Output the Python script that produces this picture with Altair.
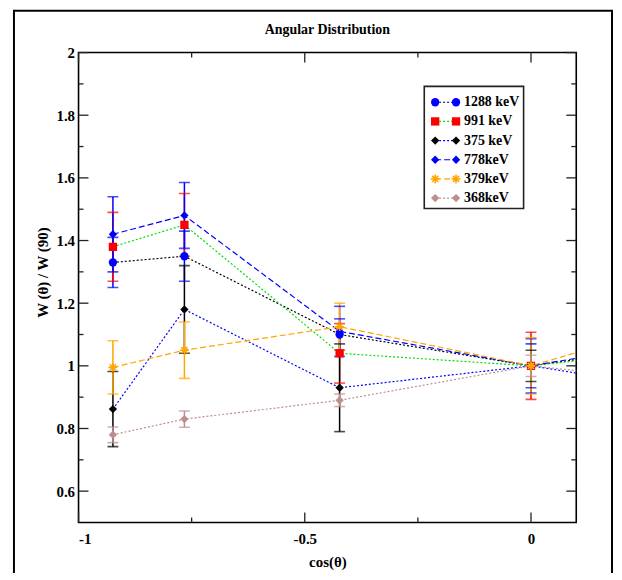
import altair as alt
import pandas as pd

# ---- data ----
cos_theta = [-0.924, -0.766, -0.423, 0.0, 0.2]   # last point lies beyond the visible range (clipped)

series = ["1288 keV", "991 keV", "375 keV", "778keV", "379keV", "368keV"]

w_1288 = [1.33, 1.35, 1.10, 1.00, 1.04]
w_991 = [1.38, 1.45, 1.04, 1.00, 1.032]
w_375 = [0.862, 1.18, 0.93, 1.00, 0.954]
w_778 = [1.42, 1.48, 1.11, 1.00, 1.048]
w_379 = [0.995, 1.05, 1.125, 1.00, 1.084]
w_368 = [0.78, 0.83, 0.89, 1.00, 0.97]

e_1288 = [0.08, 0.08, 0.05, 0.07]
e_991 = [0.11, 0.10, 0.095, 0.107]
e_375 = [0.12, 0.14, 0.14, 0.05]
e_778 = [0.12, 0.105, 0.08, 0.087]
e_379 = [0.085, 0.09, 0.075, 0.09]
e_368 = [0.025, 0.026, 0.02, 0.034]

values = [w_1288, w_991, w_375, w_778, w_379, w_368]
errors = [e_1288, e_991, e_375, e_778, e_379, e_368]

x_major = [-1.0, -0.5, 0.0]
x_minor = [-0.75, -0.25]
y_major = [0.6, 0.8, 1.0, 1.2, 1.4, 1.6, 1.8, 2.0]
y_minor = [0.7, 0.9, 1.1, 1.3, 1.5, 1.7, 1.9]

# ---- styles ----
marker_colors = ["#0000ff", "#ff0000", "#000000", "#0000ff", "#ffa500", "#bc8f8f"]
line_colors = ["#000000", "#00e000", "#0000ff", "#0000ff", "#ffa500", "#bc8f8f"]
dashes = [[2, 2], [2, 2], [2, 2], [6, 3], [6, 3], [2, 2]]
shapes = ["circle", "square", "diamond", "diamond", "circle", "diamond"]
ASTERISK = "M-1,0L1,0M0,-1L0,1M-0.7,-0.7L0.7,0.7M-0.7,0.7L0.7,-0.7"

FONT = "Liberation Serif"
W, H = 501, 473

rows = []
for s, ys in zip(series, values):
    for x, y in zip(cos_theta, ys):
        rows.append({"series": s, "x": x, "y": y})
df = pd.DataFrame(rows)

erows = []
for s, ys, es in zip(series, values, errors):
    for x, y, e in zip(cos_theta, ys, es):
        erows.append({"series": s, "x": x, "y": y, "lo": y - e, "hi": y + e})
dfe = pd.DataFrame(erows)

xs = alt.Scale(domain=[-1, 0.1], nice=False, zero=False)
ys_ = alt.Scale(domain=[0.5, 2.0], nice=False, zero=False)
col_marker = alt.Scale(domain=series, range=marker_colors)
col_line = alt.Scale(domain=series, range=line_colors)
dash_scale = alt.Scale(domain=series, range=dashes)
shape_scale = alt.Scale(domain=series, range=shapes)

x_axis = alt.Axis(values=x_major, format="~g", tickSize=0, domain=False, grid=False,
                  labelExpr="replace(datum.label, '\u2212', '-')",
                  labelFont=FONT, labelFontSize=15, labelFontWeight="bold", labelColor="black",
                  labelPadding=9, title="cos(θ)", titleFont=FONT, titleFontSize=15,
                  titleFontWeight="bold", titleBaseline="middle", titleY=39, titleColor="black")
y_axis = alt.Axis(values=y_major, format="~g", tickSize=0, domain=False, grid=False,
                  labelFont=FONT, labelFontSize=15, labelFontWeight="bold", labelColor="black",
                  labelPadding=4, title="W (θ) / W (90)", titleFont=FONT, titleFontSize=15,
                  titleFontWeight="bold", titleAngle=270, titleAlign="center",
                  titleBaseline="middle", titleX=-36, titleY=221, titleColor="black")


def X(field):
    return alt.X(field, scale=xs, axis=x_axis)


def Y(field):
    return alt.Y(field, scale=ys_, axis=y_axis)


lines = alt.Chart(df).mark_line(clip=True, strokeWidth=1.2).encode(
    x=X("x:Q"), y=Y("y:Q"),
    stroke=alt.Stroke("series:N", scale=col_line, legend=None),
    strokeDash=alt.StrokeDash("series:N", scale=dash_scale, legend=None),
    detail="series:N",
    order="x:Q",
)

ebars = alt.Chart(dfe).mark_rule(clip=True, strokeWidth=1.5).encode(
    x=X("x:Q"), y=Y("lo:Q"), y2="hi:Q",
    color=alt.Color("series:N", scale=col_marker, legend=None),
)
cap_lo = alt.Chart(dfe).mark_tick(clip=True, orient="horizontal", size=11, thickness=1.6).encode(
    x=X("x:Q"), y=Y("lo:Q"),
    color=alt.Color("series:N", scale=col_marker, legend=None),
)
cap_hi = alt.Chart(dfe).mark_tick(clip=True, orient="horizontal", size=11, thickness=1.6).encode(
    x=X("x:Q"), y=Y("hi:Q"),
    color=alt.Color("series:N", scale=col_marker, legend=None),
)

filled_pts = alt.Chart(df[df.series != "379keV"]).mark_point(
    clip=True, filled=True, size=70, opacity=1).encode(
    x=X("x:Q"), y=Y("y:Q"),
    color=alt.Color("series:N", scale=col_marker, legend=None),
    shape=alt.Shape("series:N", scale=shape_scale, legend=None),
)
star_pts = alt.Chart(df[df.series == "379keV"]).mark_point(
    clip=True, filled=False, size=80, strokeWidth=1.6, shape=ASTERISK, opacity=1).encode(
    x=X("x:Q"), y=Y("y:Q"),
    color=alt.Color("series:N", scale=col_marker, legend=None),
)

# ---- inward ticks on all four sides ----
TK = dict(color="#222222", strokeWidth=1.3)
tk = []
for vals, L in [(x_major, 10), (x_minor, 5)]:
    d = pd.DataFrame({"v": vals})
    tk.append(alt.Chart(d).mark_rule(**TK).encode(
        x=X("v:Q"), y=alt.value(H), y2=alt.value(H - L)))
    tk.append(alt.Chart(d).mark_rule(**TK).encode(
        x=X("v:Q"), y=alt.value(0), y2=alt.value(L)))
for vals, L in [(y_major, 10), (y_minor, 5)]:
    d = pd.DataFrame({"v": vals})
    tk.append(alt.Chart(d).mark_rule(**TK).encode(
        y=Y("v:Q"), x=alt.value(0), x2=alt.value(L)))
    tk.append(alt.Chart(d).mark_rule(**TK).encode(
        y=Y("v:Q"), x=alt.value(W), x2=alt.value(W - L)))

one = pd.DataFrame({"a": [0]})

# outer page frame
frame = alt.Chart(one).mark_rect(fillOpacity=0, stroke="black", strokeWidth=2).encode(
    x=alt.value(-65), x2=alt.value(537), y=alt.value(-42), y2=alt.value(H + 120))

title = alt.Chart(one).mark_text(font=FONT, fontSize=14, fontWeight="bold",
                                 baseline="middle", align="center", color="black").encode(
    x=alt.value(W / 2), y=alt.value(-23), text=alt.value("Angular Distribution"))

# ---- legend drawn by hand ----
leg = pd.DataFrame({"series": series, "ly": [50 + 19.3 * i for i in range(len(series))]})
leg_box = alt.Chart(one).mark_rect(fill="white", stroke="#222222", strokeWidth=1.6).encode(
    x=alt.value(348), x2=alt.value(448), y=alt.value(34), y2=alt.value(157))
leg_line = alt.Chart(leg).mark_rule(strokeWidth=1.2).encode(
    x=alt.value(359), x2=alt.value(380),
    y=alt.Y("ly:Q", scale=None),
    stroke=alt.Stroke("series:N", scale=col_line, legend=None),
    strokeDash=alt.StrokeDash("series:N", scale=dash_scale, legend=None),
)
leg_pts = []
for px in (359, 380):
    leg_pts.append(alt.Chart(leg[leg.series != "379keV"]).mark_point(
        filled=True, size=70, opacity=1).encode(
        x=alt.value(px), y=alt.Y("ly:Q", scale=None),
        color=alt.Color("series:N", scale=col_marker, legend=None),
        shape=alt.Shape("series:N", scale=shape_scale, legend=None)))
    leg_pts.append(alt.Chart(leg[leg.series == "379keV"]).mark_point(
        filled=False, size=80, strokeWidth=1.6, shape=ASTERISK, opacity=1).encode(
        x=alt.value(px), y=alt.Y("ly:Q", scale=None),
        color=alt.Color("series:N", scale=col_marker, legend=None)))
leg_text = alt.Chart(leg).mark_text(font=FONT, fontSize=14, fontWeight="bold", align="left",
                                    baseline="middle", color="black").encode(
    x=alt.value(388), y=alt.Y("ly:Q", scale=None), text="series:N")

chart = alt.layer(
    lines, ebars, cap_lo, cap_hi, filled_pts, star_pts, *tk, frame, title,
    leg_box, leg_line, *leg_pts, leg_text
).properties(
    width=W, height=H,
    autosize=alt.AutoSizeParams(type="none"),
    padding={"left": 71, "top": 43, "right": 38, "bottom": 49},
    background="white",
).configure_view(stroke="black", strokeWidth=1.6)

chart.save("out.html", embed_options={"renderer": "svg", "actions": False})
